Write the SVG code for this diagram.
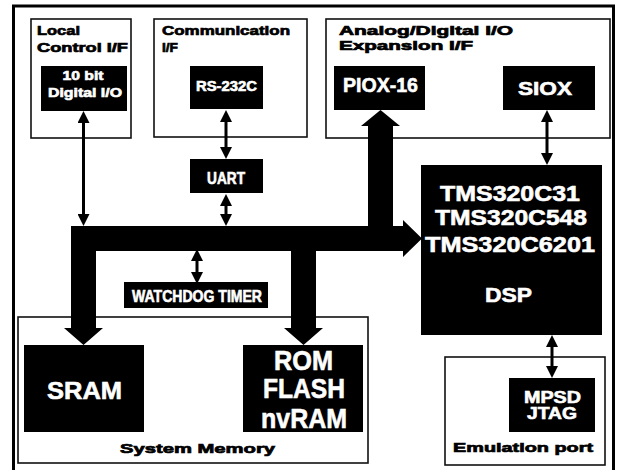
<svg xmlns="http://www.w3.org/2000/svg" width="622" height="470" viewBox="0 0 622 470">
<style>
.frame{fill:#fff;stroke:#111;stroke-width:1.6}
.blk{fill:#000}
.hd{font-family:"Liberation Sans",Arial,sans-serif;font-weight:bold;font-size:13px;fill:#000;stroke:#000;stroke-width:0.7}
.wt{font-family:"Liberation Sans",Arial,sans-serif;font-weight:bold;fill:#fff;text-anchor:middle;stroke:#fff;stroke-width:0.6}
.ar{stroke:#000;stroke-width:3;fill:none;marker-start:url(#ah);marker-end:url(#ah)}
</style>
<defs>
<marker id="ah" markerUnits="userSpaceOnUse" markerWidth="12" markerHeight="12" refX="2" refY="6" orient="auto-start-reverse">
<path d="M0,0 L12,6 L0,12 z" fill="#000"/>
</marker>
</defs>
<rect x="0" y="0" width="622" height="470" fill="#fff"/>
<rect x="13.5" y="6" width="600" height="470" fill="none" stroke="#000" stroke-width="3"/>

<g id="local-if">
<rect class="frame" x="31" y="19" width="100" height="119"/>
<text class="hd" x="37" y="35" textLength="43" lengthAdjust="spacingAndGlyphs">Local</text>
<text class="hd" x="37" y="52" textLength="91" lengthAdjust="spacingAndGlyphs">Control I/F</text>
</g>
<g id="comm-if">
<rect class="frame" x="154" y="19" width="153" height="118"/>
<text class="hd" x="162" y="35" textLength="128" lengthAdjust="spacingAndGlyphs">Communication</text>
<text class="hd" x="162" y="52" textLength="16" lengthAdjust="spacingAndGlyphs">I/F</text>
</g>
<g id="aio-if">
<rect class="frame" x="326" y="19" width="284" height="119"/>
<text class="hd" x="339" y="35" textLength="174" lengthAdjust="spacingAndGlyphs">Analog/Digital I/O</text>
<text class="hd" x="339" y="50" textLength="134" lengthAdjust="spacingAndGlyphs">Expansion I/F</text>
</g>
<g id="system-memory">
<rect class="frame" x="18" y="317" width="350" height="146"/>
<text class="hd" x="120" y="453" font-size="15" textLength="155" lengthAdjust="spacingAndGlyphs">System Memory</text>
</g>
<g id="emulation-port">
<rect class="frame" x="445" y="357" width="160" height="108"/>
<text class="hd" x="453" y="452" font-size="15" textLength="140" lengthAdjust="spacingAndGlyphs">Emulation port</text>
</g>

<g id="digital-io">
<rect class="blk" x="41" y="66" width="86" height="45"/>
<text class="wt" x="83" y="80" font-size="12.5" textLength="41" lengthAdjust="spacingAndGlyphs">10 bit</text>
<text class="wt" x="85" y="97" font-size="12.5" textLength="74" lengthAdjust="spacingAndGlyphs">Digital I/O</text>
</g>
<g id="rs232c">
<rect class="blk" x="190" y="66" width="73" height="43"/>
<text class="wt" x="226.5" y="91" font-size="14" textLength="61" lengthAdjust="spacingAndGlyphs">RS-232C</text>
</g>
<g id="uart">
<rect class="blk" x="190" y="159" width="73" height="34"/>
<text class="wt" x="226" y="184" font-size="16.5" textLength="38" lengthAdjust="spacingAndGlyphs">UART</text>
</g>
<g id="piox16">
<rect class="blk" x="334" y="66" width="91" height="44"/>
<text class="wt" x="380.5" y="92" font-size="20" textLength="75" lengthAdjust="spacingAndGlyphs">PIOX-16</text>
</g>
<g id="siox">
<rect class="blk" x="503" y="66" width="92" height="44"/>
<text class="wt" x="545" y="95" font-size="19" textLength="54" lengthAdjust="spacingAndGlyphs">SIOX</text>
</g>
<g id="dsp">
<rect class="blk" x="421" y="165" width="181" height="170"/>
<text class="wt" x="510" y="201" font-size="22" textLength="140" lengthAdjust="spacingAndGlyphs">TMS320C31</text>
<text class="wt" x="511" y="225" font-size="22" textLength="152" lengthAdjust="spacingAndGlyphs">TMS320C548</text>
<text class="wt" x="510" y="252" font-size="22" textLength="170" lengthAdjust="spacingAndGlyphs">TMS320C6201</text>
<text class="wt" x="508.5" y="302" font-size="21" textLength="47" lengthAdjust="spacingAndGlyphs">DSP</text>
</g>
<g id="watchdog">
<rect class="blk" x="124" y="282" width="144" height="26"/>
<text class="wt" x="197" y="302" font-size="16" textLength="130" lengthAdjust="spacingAndGlyphs">WATCHDOG TIMER</text>
</g>
<g id="sram">
<rect class="blk" x="24" y="345" width="120" height="87"/>
<text class="wt" x="84.5" y="399" font-size="24" textLength="75" lengthAdjust="spacingAndGlyphs">SRAM</text>
</g>
<g id="rom">
<rect class="blk" x="243" y="345" width="120" height="87"/>
<text class="wt" x="303.5" y="370" font-size="28" textLength="59" lengthAdjust="spacingAndGlyphs">ROM</text>
<text class="wt" x="304" y="398" font-size="28" textLength="82" lengthAdjust="spacingAndGlyphs">FLASH</text>
<text class="wt" x="304" y="428" font-size="28" textLength="86" lengthAdjust="spacingAndGlyphs">nvRAM</text>
</g>
<g id="mpsd-jtag">
<rect class="blk" x="509" y="378" width="86" height="54"/>
<text class="wt" x="552.5" y="403" font-size="16" textLength="57" lengthAdjust="spacingAndGlyphs">MPSD</text>
<text class="wt" x="552" y="419" font-size="16" textLength="50" lengthAdjust="spacingAndGlyphs">JTAG</text>
</g>

<g id="connectors">
<path id="bus" fill="#000" d="M71,226 L368,226 L368,126 L361,126 L380.5,110 L400,126 L393,126 L393,226 L403,226 L403,220 L422,238.5 L403,257 L403,251 L316,251 L316,328 L323,328 L303.5,345 L284,328 L291,328 L291,251 L96,251 L96,328 L103,328 L83.5,345 L64,328 L71,328 Z"/>
<line class="ar" x1="83.5" y1="121" x2="83.5" y2="216"/>
<line class="ar" x1="226" y1="120" x2="226" y2="149"/>
<line class="ar" x1="226" y1="204" x2="226" y2="216"/>
<line class="ar" x1="197" y1="259" x2="197" y2="274"/>
<line class="ar" x1="547" y1="120" x2="547" y2="155"/>
<line class="ar" x1="552" y1="345" x2="552" y2="368"/>
</g>
</svg>
